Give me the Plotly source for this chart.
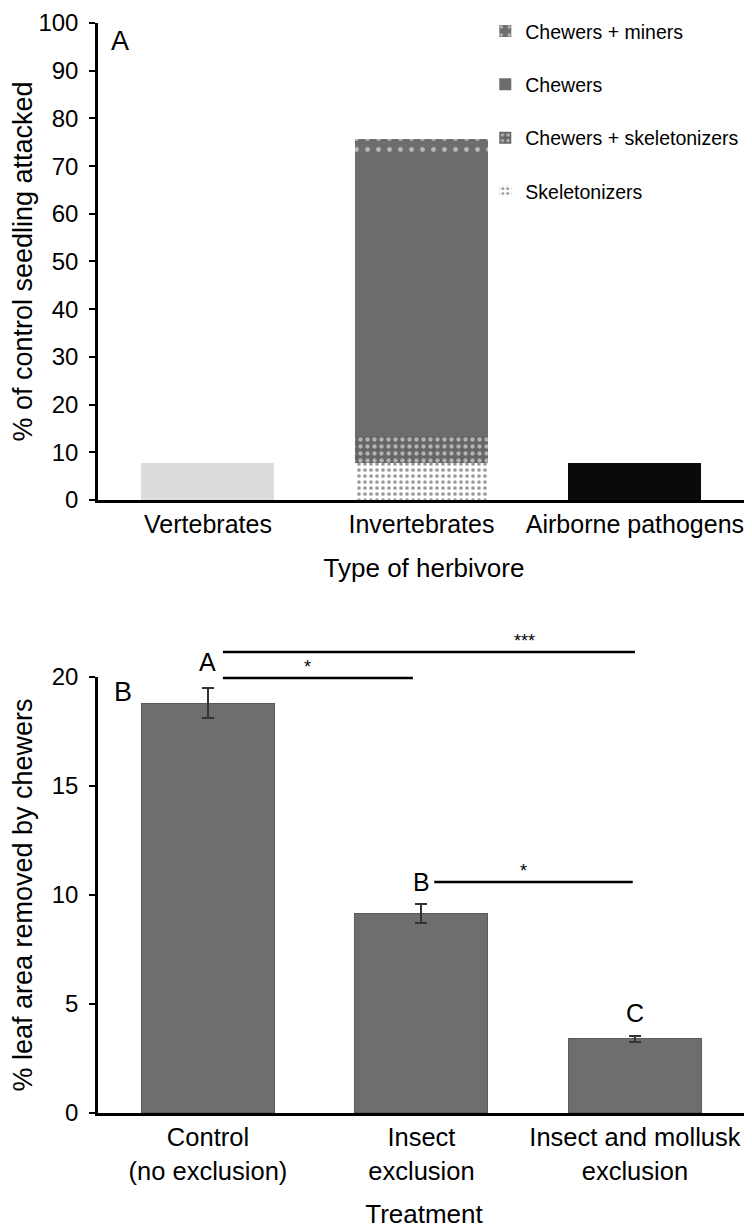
import plotly.graph_objects as go

# ---------------- Data ----------------
# Panel A
categories_a = ["Vertebrates", "Invertebrates", "Airborne pathogens"]
single_type_cats = ["Vertebrates", "Airborne pathogens"]
single_type_vals = [7.7, 7.7]
single_type_colors = ["#dcdcdc", "#0a0a0a"]

invert_cat = ["Invertebrates"]
skeletonizers = [7.8]
chewers_skeletonizers = [5.6]
chewers = [59.3]
chewers_miners = [3.0]

# Panel B
categories_b = ["Control<br>(no exclusion)", "Insect<br>exclusion", "Insect and mollusk<br>exclusion"]
leaf_area = [18.8, 9.15, 3.4]
leaf_area_se = [0.7, 0.45, 0.15]
group_letters = ["A", "B", "C"]
letter_y = [20.7, 10.6, 4.6]

# Significance comparisons: (from, to, height, label, label position)
sig_from = [0.07, 0.07, 1.06]
sig_to = [2.0, 0.96, 1.99]
sig_height = [21.15, 19.95, 10.6]
sig_label = ["***", "*", "*"]
sig_label_x = [1.485, 0.464, 1.48]

A_MAX = 100
B_MAX = 20

FONT = "Liberation Sans, Arial, Helvetica, sans-serif"

fig = go.Figure()

# Panel A: single-type bars
fig.add_trace(go.Bar(
    x=single_type_cats, y=single_type_vals, xaxis="x", yaxis="y",
    marker=dict(color=single_type_colors, line=dict(width=0)),
    showlegend=False, hoverinfo="x+y",
))

# Panel A: invertebrates stacked breakdown (bottom to top)
stack_specs = [
    ("Skeletonizers", skeletonizers, dict(shape=".", fgcolor="#333333", bgcolor="#ffffff", size=6, solidity=0.3), 4),
    ("Chewers + skeletonizers", chewers_skeletonizers, dict(shape=".", fgcolor="#ffffff", bgcolor="#666666", size=7, solidity=0.3), 3),
    ("Chewers", chewers, None, 2),
    ("Chewers + miners", chewers_miners, dict(shape=".", fgcolor="#ffffff", bgcolor="#6e6e6e", size=11, solidity=0.15), 1),
]
for i, (name, vals, pat, rank) in enumerate(stack_specs):
    marker = dict(color="#6c6c6c", line=dict(width=0))
    if pat is not None:
        marker["pattern"] = pat
    fig.add_trace(go.Bar(
        x=invert_cat, y=vals, name=name, xaxis="x", yaxis="y",
        marker=marker, legendgroup=f"g{i}", legendrank=rank,
    ))

# Panel B
fig.add_trace(go.Bar(
    x=categories_b, y=leaf_area, xaxis="x2", yaxis="y2",
    marker=dict(color="#6e6e6e", line=dict(color="#5a5a5a", width=1)),
    error_y=dict(type="data", array=leaf_area_se, visible=True,
                 color="#333333", thickness=2, width=6),
    showlegend=False,
))

x_range = [-0.515, 2.539]

axis_common = dict(
    showline=True, linecolor="black", linewidth=2.5,
    tickfont=dict(family=FONT, size=24, color="black"),
    showgrid=False, zeroline=False, automargin=False,
)

fig.update_layout(
    width=744, height=1221,
    margin=dict(l=90, r=2, t=6, b=116, autoexpand=False),
    paper_bgcolor="white", plot_bgcolor="white",
    barmode="stack", bargap=0.377,
    font=dict(family=FONT, color="black"),
    xaxis=dict(**axis_common, domain=[0, 1], anchor="y", range=x_range,
               ticks="", type="category", categoryorder="array", categoryarray=categories_a,
               tickfont_size=25,
               title=dict(text="Type of herbivore", font=dict(size=26, family=FONT), standoff=23)),
    yaxis=dict(**axis_common, domain=[0.5578, 0.9918], anchor="x", range=[0, A_MAX],
               tickmode="array", tickvals=list(range(0, 101, 10)), ticklabeloverflow="allow",
               ticks="outside", ticklen=6, tickwidth=2, tickcolor="black", ticklabelstandoff=6,
               title=dict(text="% of control seedling attacked", font=dict(size=27, family=FONT), standoff=29)),
    xaxis2=dict(**axis_common, domain=[0, 1], anchor="y2", range=x_range,
                ticks="", type="category", categoryorder="array", categoryarray=categories_b,
                tickfont_size=25.5,
                title=dict(text="Treatment", font=dict(size=26, family=FONT), standoff=25)),
    yaxis2=dict(**axis_common, domain=[0, 0.3967], anchor="x2", range=[0, B_MAX],
                tickmode="array", tickvals=[0, 5, 10, 15, 20], ticklabeloverflow="allow",
                ticks="outside", ticklen=6, tickwidth=2, tickcolor="black", ticklabelstandoff=6,
                title=dict(text="% leaf area removed by chewers", font=dict(size=27, family=FONT), standoff=29)),
    legend=dict(
        x=0.594, y=1.002, xanchor="left", yanchor="top",
        traceorder="grouped", tracegroupgap=25,
        font=dict(family=FONT, size=19.5, color="black"),
        bgcolor="rgba(0,0,0,0)", itemwidth=30,
    ),
)

# Panel letters
fig.add_annotation(x=-0.41, y=96.3, xref="x", yref="y", text="A", showarrow=False,
                   yanchor="middle", font=dict(family=FONT, size=27, color="black"))
fig.add_annotation(x=-0.40, y=19.3, xref="x2", yref="y2", text="B", showarrow=False,
                   yanchor="middle", font=dict(family=FONT, size=27, color="black"))

# Group letters above bars in panel B (y given in data units, placed via the y2 domain)
for i, (lt, ly) in enumerate(zip(group_letters, letter_y)):
    fig.add_annotation(x=i, y=ly / B_MAX, xref="x2", yref="y2 domain", text=lt, showarrow=False,
                       yanchor="middle", font=dict(family=FONT, size=25, color="black"))

# Significance bars (x in category index units, y in data units of panel B)
for x0, x1, yv, label, lx in zip(sig_from, sig_to, sig_height, sig_label, sig_label_x):
    fig.add_shape(type="line", xref="x2", yref="y2 domain",
                  x0=x0, x1=x1, y0=yv / B_MAX, y1=yv / B_MAX,
                  line=dict(color="black", width=2.5))
    fig.add_annotation(x=lx, y=yv / B_MAX, xref="x2", yref="y2 domain", text=label,
                       showarrow=False, yanchor="bottom", yshift=-1,
                       font=dict(family=FONT, size=18, color="black"))

fig.write_html("out.html")
